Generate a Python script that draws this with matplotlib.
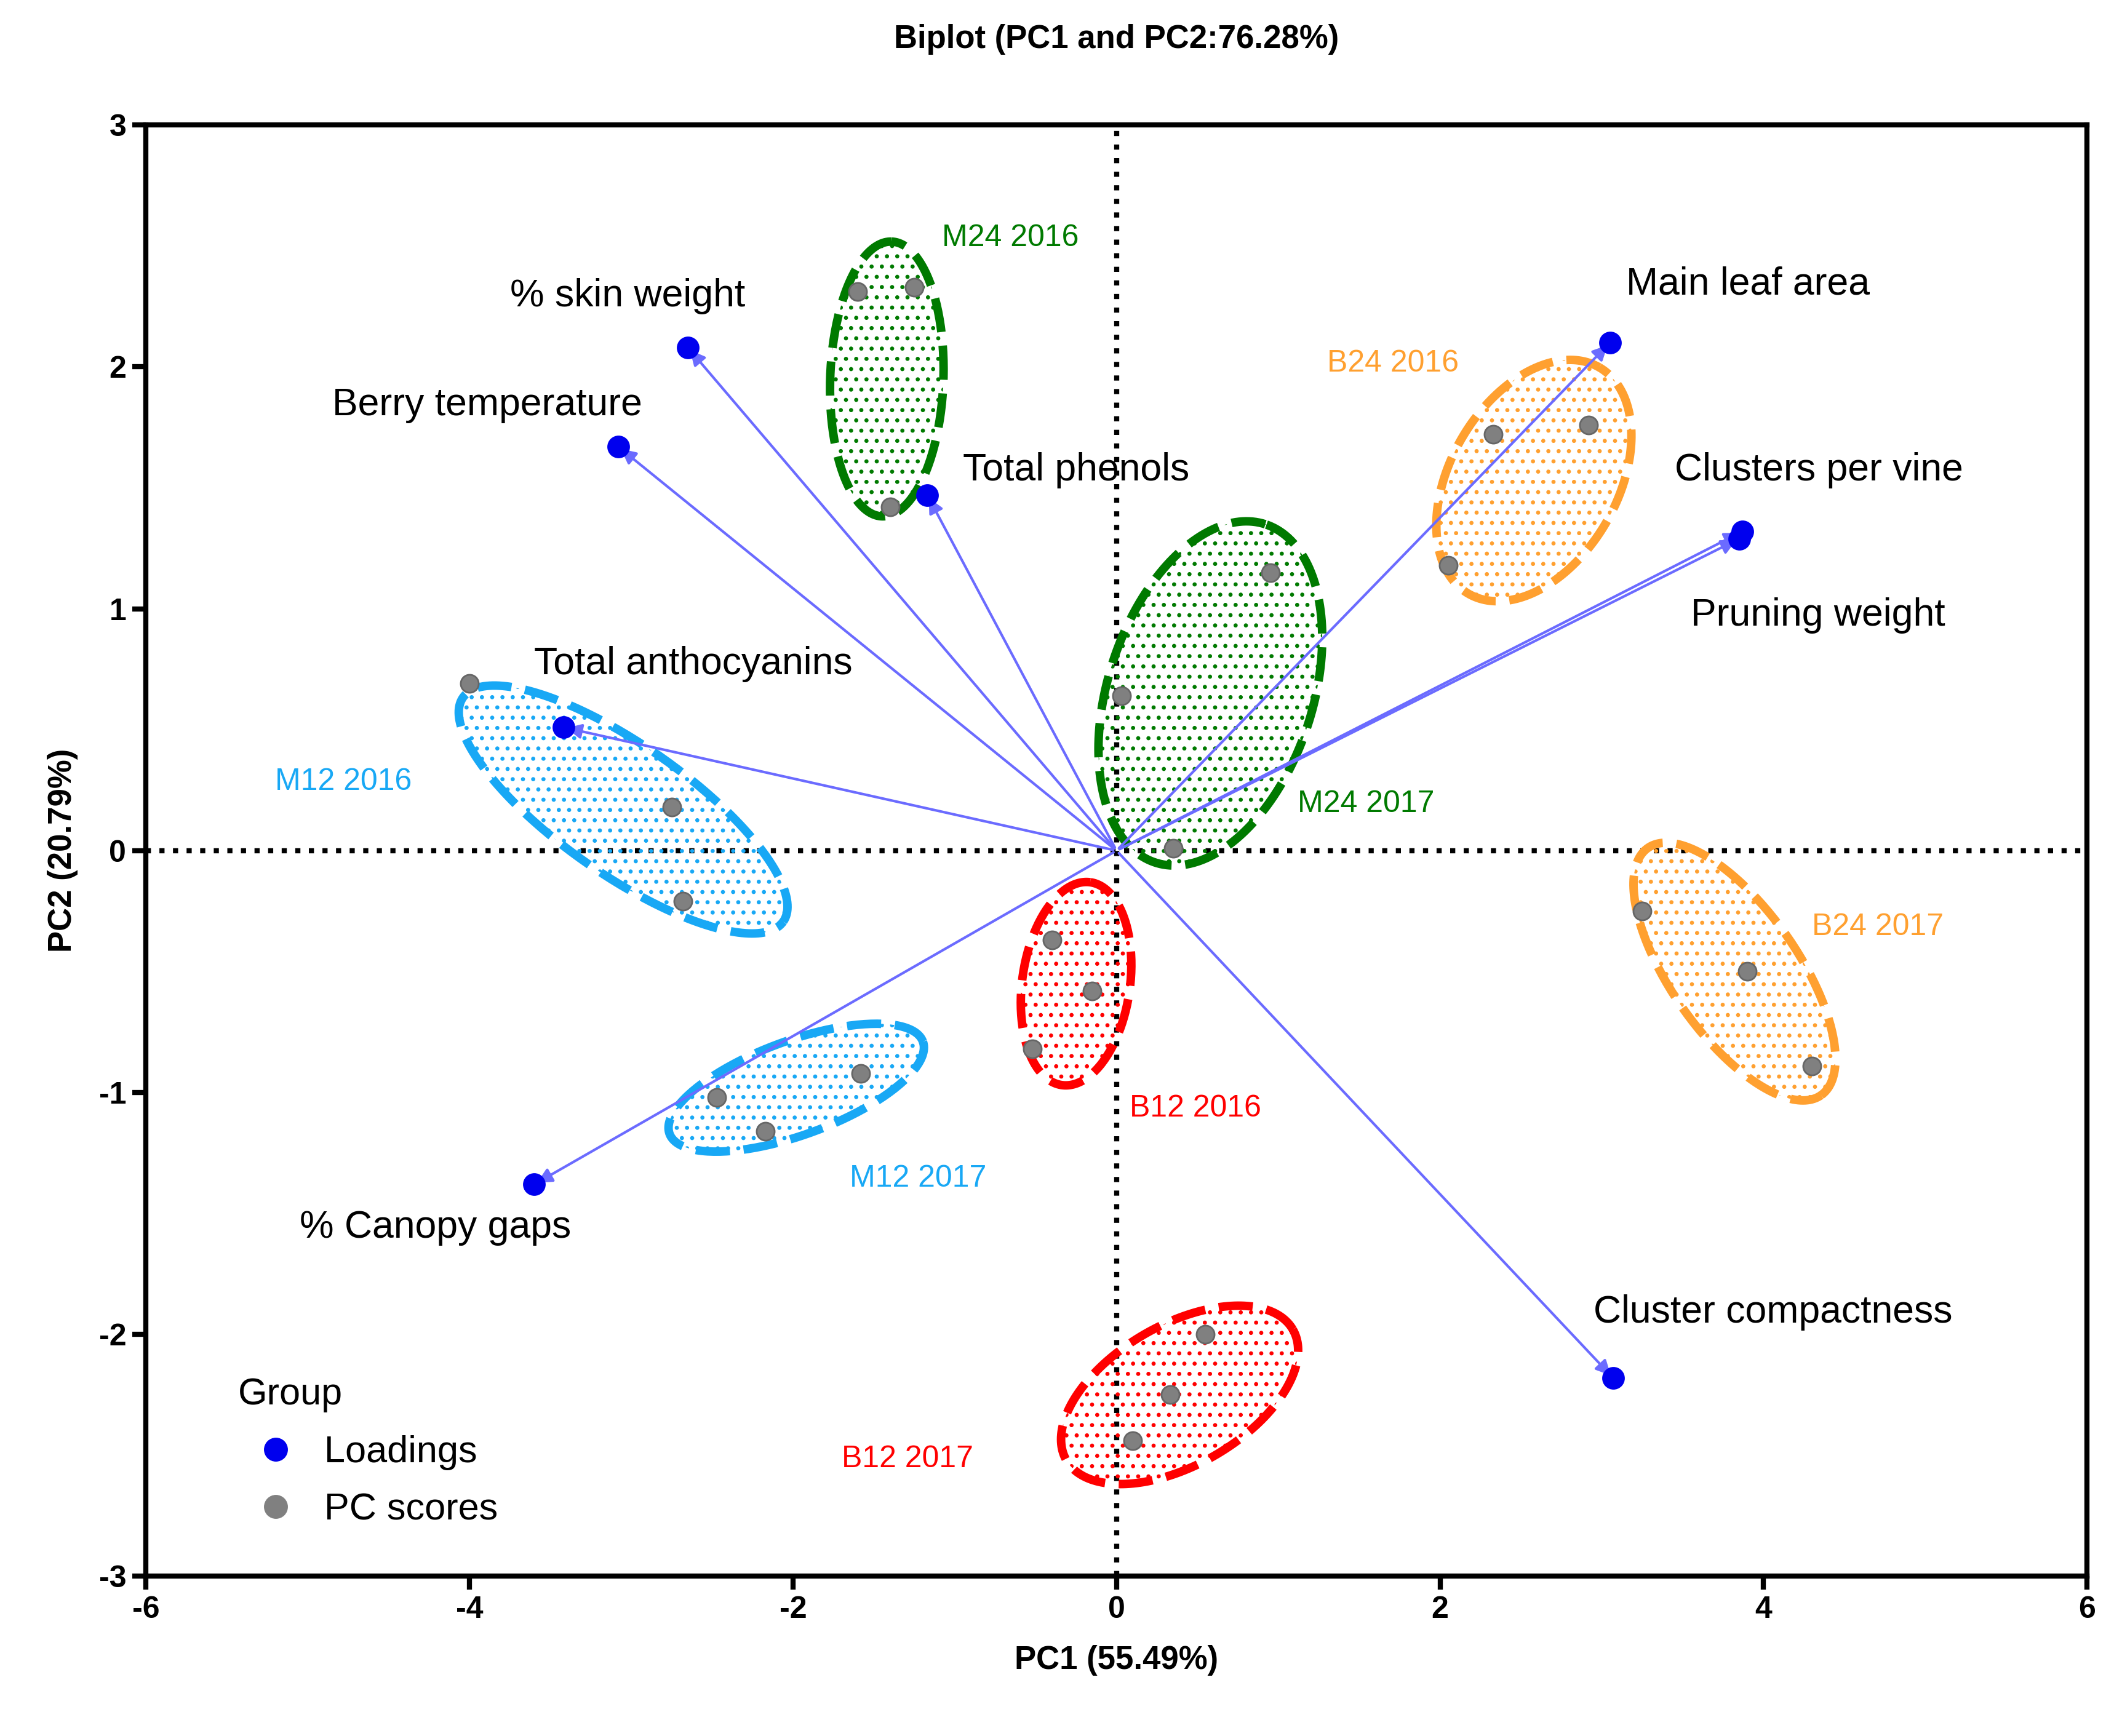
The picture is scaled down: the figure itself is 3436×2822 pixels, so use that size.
import matplotlib.pyplot as plt
from matplotlib.patches import Polygon
from matplotlib.lines import Line2D
import numpy as np

plt.rcParams['font.family'] = 'Liberation Sans'
plt.rcParams['axes.unicode_minus'] = False
plt.rcParams['hatch.linewidth'] = 1.2

# loadings
load_names = ["% skin weight", "Berry temperature", "Total phenols", "Total anthocyanins",
              "% Canopy gaps", "Main leaf area", "Clusters per vine", "Pruning weight",
              "Cluster compactness"]
load_x = [-2.65, -3.08, -1.17, -3.42, -3.60, 3.05, 3.87, 3.85, 3.07]
load_y = [2.08, 1.67, 1.47, 0.51, -1.38, 2.10, 1.32, 1.29, -2.18]
load_lab_x = [-3.75, -4.85, -0.95, -3.60, -5.05, 3.15, 3.45, 3.55, 2.95]
load_lab_y = [2.25, 1.80, 1.53, 0.73, -1.60, 2.30, 1.53, 0.93, -1.95]

# PC scores per group
groups = ["M24 2016", "M24 2017", "B24 2016", "B24 2017", "M12 2016", "M12 2017", "B12 2016", "B12 2017"]
score_x = [[-1.60, -1.25, -1.40], [0.95, 0.03, 0.35], [2.33, 2.92, 2.05], [3.25, 3.90, 4.30],
           [-4.00, -2.75, -2.68], [-2.47, -2.17, -1.58], [-0.40, -0.15, -0.52], [0.55, 0.33, 0.10]]
score_y = [[2.31, 2.33, 1.42], [1.15, 0.64, 0.01], [1.72, 1.76, 1.18], [-0.25, -0.50, -0.89],
           [0.69, 0.18, -0.21], [-1.02, -1.16, -0.92], [-0.37, -0.58, -0.82], [-2.00, -2.25, -2.44]]
colors = ["#007a00", "#007a00", "#ffa030", "#ffa030", "#18a8f5", "#18a8f5", "#ff0000", "#ff0000"]
group_lab_x = [-1.08, 1.12, 1.3, 4.3, -5.2, -1.65, 0.08, -1.7]
group_lab_y = [2.50, 0.16, 1.98, -0.35, 0.25, -1.39, -1.10, -2.55]

# ellipses: center (data), semi-axes (px at 120 px/unit x, 179.5 px/unit y), angle (deg)
ell_cx = [-1.42, 0.58, 2.58, 3.82, -3.05, -1.98, -0.25, 0.39]
ell_cy = [1.95, 0.65, 1.53, -0.5, 0.17, -0.98, -0.55, -2.25]
ell_a = [102, 132, 97, 112, 145, 100, 76, 97]
ell_b = [42, 76, 62, 47, 48, 35, 40, 52]
ell_ang = [88, 72, 60, -55, -35, 20, 82, 30]

fig = plt.figure(figsize=(17.185, 14.11), dpi=200)
ax = fig.add_axes([0.069, 0.092, 0.918, 0.836])
sx, sy = 120.0, 179.5

t = np.linspace(0, 2 * np.pi, 200)
for i in range(len(groups)):
    th = np.radians(ell_ang[i])
    px = ell_a[i] * np.cos(t) * np.cos(th) - ell_b[i] * np.sin(t) * np.sin(th)
    py = ell_a[i] * np.cos(t) * np.sin(th) + ell_b[i] * np.sin(t) * np.cos(th)
    xy = np.column_stack([ell_cx[i] + px / sx, ell_cy[i] + py / sy])
    ax.add_patch(Polygon(xy, closed=True, fill=False, hatch='..', edgecolor=colors[i], linewidth=0, zorder=1))
    ax.plot(xy[:, 0], xy[:, 1], color=colors[i], lw=5, ls=(0, (4, 1.6)), zorder=2)
    ax.text(group_lab_x[i], group_lab_y[i], groups[i], color=colors[i], fontsize=18, zorder=5)
    ax.scatter(score_x[i], score_y[i], s=110, color='gray', edgecolor='#666666', zorder=4)

ax.axhline(0, color='black', ls=':', lw=3, zorder=0)
ax.axvline(0, color='black', ls=':', lw=3, zorder=0)

for i in range(len(load_names)):
    ax.annotate('', xy=(load_x[i], load_y[i]), xytext=(0, 0),
                arrowprops=dict(arrowstyle='-|>', color='#6b6bff', lw=1.5, mutation_scale=18), zorder=3)
    ax.text(load_lab_x[i], load_lab_y[i], load_names[i], fontsize=22.5, zorder=5)
ax.scatter(load_x, load_y, s=150, color='#0000ee', zorder=4)

ax.set_xlim(-6, 6)
ax.set_ylim(-3, 3)
ax.set_xticks(range(-6, 7, 2))
ax.set_yticks(range(-3, 4))
for s in ax.spines.values():
    s.set_linewidth(3)
ax.tick_params(width=3, length=8, labelsize=18)
for lab in ax.get_xticklabels() + ax.get_yticklabels():
    lab.set_fontweight('bold')
ax.set_xlabel('PC1 (55.49%)', fontsize=19, fontweight='bold', labelpad=12)
ax.set_ylabel('PC2 (20.79%)', fontsize=19, fontweight='bold', labelpad=12)
ax.set_title('Biplot (PC1 and PC2:76.28%)', fontsize=19, fontweight='bold', pad=45)

handles = [Line2D([], [], marker='o', ls='', color='#0000ee', markersize=13),
           Line2D([], [], marker='o', ls='', color='gray', markersize=13)]
leg = ax.legend(handles, ['Loadings', 'PC scores'], title='Group', loc='lower left',
                bbox_to_anchor=(0.03, 0.01), frameon=False, fontsize=22, title_fontsize=22,
                handletextpad=0.3, labelspacing=0.6)
leg._legend_box.align = 'left'

fig.savefig('out.png', dpi=200)
